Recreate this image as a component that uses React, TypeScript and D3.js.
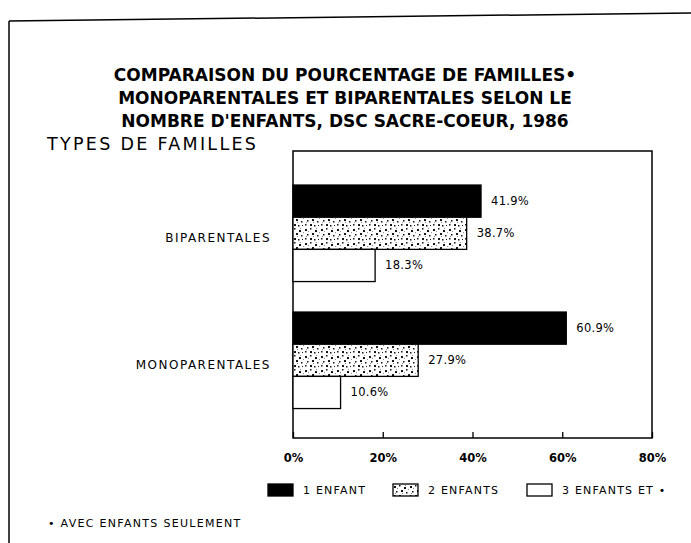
import React, { useEffect, useRef } from 'react';
import * as d3 from 'd3';

// data
const groups = ['BIPARENTALES', 'MONOPARENTALES'];
const series = ['1 ENFANT', '2 ENFANTS', '3 ENFANTS ET •'];
const biparentales = [41.9, 38.7, 18.3];
const monoparentales = [60.9, 27.9, 10.6];
const tickValues = [0, 20, 40, 60, 80];
const titleLines = [
    'COMPARAISON DU POURCENTAGE DE FAMILLES•',
    'MONOPARENTALES ET BIPARENTALES SELON LE',
    "NOMBRE D'ENFANTS, DSC SACRE-COEUR, 1986",
];

const font = '"DejaVu Sans", Verdana, sans-serif';

export default function App() {
    const ref = useRef<SVGSVGElement>(null);

    useEffect(() => {
        const svg = d3.select(ref.current);
        svg.selectAll('*').remove();

        const width = 691;
        const height = 543;

        //speckled fill for the 2 enfants bars
        const defs = svg.append('defs');
        const pat = defs.append('pattern')
            .attr('id', 'dots')
            .attr('patternUnits', 'userSpaceOnUse')
            .attr('width', 16)
            .attr('height', 14);
        pat.append('rect').attr('width', 16).attr('height', 14).attr('fill', '#fff');
        const specks = [[1, 2, 2], [6, 1, 1.5], [11, 3, 2], [3, 7, 1.5], [8, 6, 2], [13, 8, 1.5], [1, 11, 1.5], [6, 11, 2], [10, 12, 1.5], [14, 12, 1]];
        pat.selectAll('rect.s').data(specks).enter()
            .append('rect')
            .attr('class', 's')
            .attr('x', d => d[0]).attr('y', d => d[1])
            .attr('width', d => d[2]).attr('height', d => d[2])
            .attr('fill', '#111');
        const grey = [[4, 4], [9, 9], [12, 1], [2, 9], [15, 5]];
        pat.selectAll('rect.g').data(grey).enter()
            .append('rect')
            .attr('class', 'g')
            .attr('x', d => d[0]).attr('y', d => d[1])
            .attr('width', 1).attr('height', 1)
            .attr('fill', '#888');

        const fills = ['#000', 'url(#dots)', '#fff'];

        //outer frame of the scanned page
        svg.append('line')
            .attr('x1', 9).attr('y1', 21).attr('x2', width).attr('y2', 13)
            .attr('stroke', '#000').attr('stroke-width', 1.5);
        svg.append('line')
            .attr('x1', 9).attr('y1', 21).attr('x2', 9).attr('y2', height)
            .attr('stroke', '#000').attr('stroke-width', 1.5);

        //title
        svg.append('g').selectAll('text').data(titleLines).enter()
            .append('text')
            .attr('x', 345)
            .attr('y', (d, i) => 81 + i * 23)
            .attr('text-anchor', 'middle')
            .attr('font-family', font)
            .attr('font-weight', 'bold')
            .attr('font-size', 17)
            .text(d => d);

        svg.append('text')
            .attr('x', 47)
            .attr('y', 150)
            .attr('font-family', font)
            .attr('font-size', 17.5)
            .attr('letter-spacing', 2.3)
            .text('TYPES DE FAMILLES');

        //plot area
        const left = 293;
        const right = 652;
        const top = 151;
        const bottom = 438;

        const x = d3.scaleLinear().domain([0, 80]).range([left, right]);

        const y0 = d3.scaleBand()
            .domain(groups)
            .range([169.8, 423.8])
            .paddingInner(0.24)
            .paddingOuter(0.12);

        const y1 = d3.scaleBand()
            .domain(series)
            .range([0, y0.bandwidth()]);

        svg.append('rect')
            .attr('x', left).attr('y', top)
            .attr('width', right - left).attr('height', bottom - top)
            .attr('fill', 'none')
            .attr('stroke', '#000')
            .attr('stroke-width', 1.5);

        const table = groups.map((g, i) => ({
            group: g,
            values: (i === 0 ? biparentales : monoparentales).map((v, j) => ({ key: series[j], value: v, idx: j })),
        }));

        const grp = svg.append('g').selectAll('g').data(table).enter()
            .append('g')
            .attr('transform', d => `translate(0, ${y0(d.group)})`);

        grp.selectAll('rect').data(d => d.values).enter()
            .append('rect')
            .attr('x', x(0))
            .attr('y', d => y1(d.key)!)
            .attr('width', d => x(d.value) - x(0))
            .attr('height', y1.bandwidth())
            .attr('fill', d => fills[d.idx])
            .attr('stroke', '#000')
            .attr('stroke-width', 1.3);

        grp.selectAll('text').data(d => d.values).enter()
            .append('text')
            .attr('x', d => x(d.value) + 10)
            .attr('y', d => y1(d.key)! + y1.bandwidth() / 2)
            .attr('dy', '0.35em')
            .attr('font-family', font)
            .attr('font-size', 11.5)
            .attr('letter-spacing', 0.3)
            .text(d => d.value.toFixed(1) + '%');

        //group labels
        svg.append('g').selectAll('text').data(groups).enter()
            .append('text')
            .attr('x', 271)
            .attr('y', d => y0(d)! + y0.bandwidth() / 2 + 4)
            .attr('dy', '0.35em')
            .attr('text-anchor', 'end')
            .attr('font-family', font)
            .attr('font-size', 12)
            .attr('letter-spacing', 1.5)
            .text(d => d);

        //x axis
        const xAxis = d3.axisBottom(x)
            .tickValues(tickValues)
            .tickFormat(d => d + '%')
            .tickSizeInner(-6)
            .tickSizeOuter(0)
            .tickPadding(16);

        const xAxisGroup = svg.append('g')
            .attr('transform', `translate(0, ${bottom})`)
            .call(xAxis);
        xAxisGroup.select('.domain').remove();
        xAxisGroup.selectAll('line').attr('stroke', '#000').attr('stroke-width', 1.3);
        xAxisGroup.selectAll('text')
            .attr('font-family', font)
            .attr('font-weight', 'bold')
            .attr('font-size', 11.5)
            .attr('fill', '#000');

        //legend
        const legendX = [268, 393, 527];
        const legend = svg.append('g').selectAll('g').data(series).enter()
            .append('g')
            .attr('transform', (d, i) => `translate(${legendX[i]}, 484)`);
        legend.append('rect')
            .attr('width', 25).attr('height', 12)
            .attr('fill', (d, i) => fills[i])
            .attr('stroke', '#000')
            .attr('stroke-width', 1.3);
        legend.append('text')
            .attr('x', 35)
            .attr('y', 6)
            .attr('dy', '0.35em')
            .attr('font-family', font)
            .attr('font-size', 11)
            .attr('letter-spacing', 1.2)
            .text(d => d);

        svg.append('text')
            .attr('x', 48)
            .attr('y', 527)
            .attr('font-family', font)
            .attr('font-size', 11)
            .attr('letter-spacing', 1.3)
            .text('• AVEC ENFANTS SEULEMENT');
    }, []);

    return (
        <svg ref={ref} width={691} height={543}
            style={{ position: 'absolute', left: 0, top: 0, background: '#fff' }} />
    );
}
